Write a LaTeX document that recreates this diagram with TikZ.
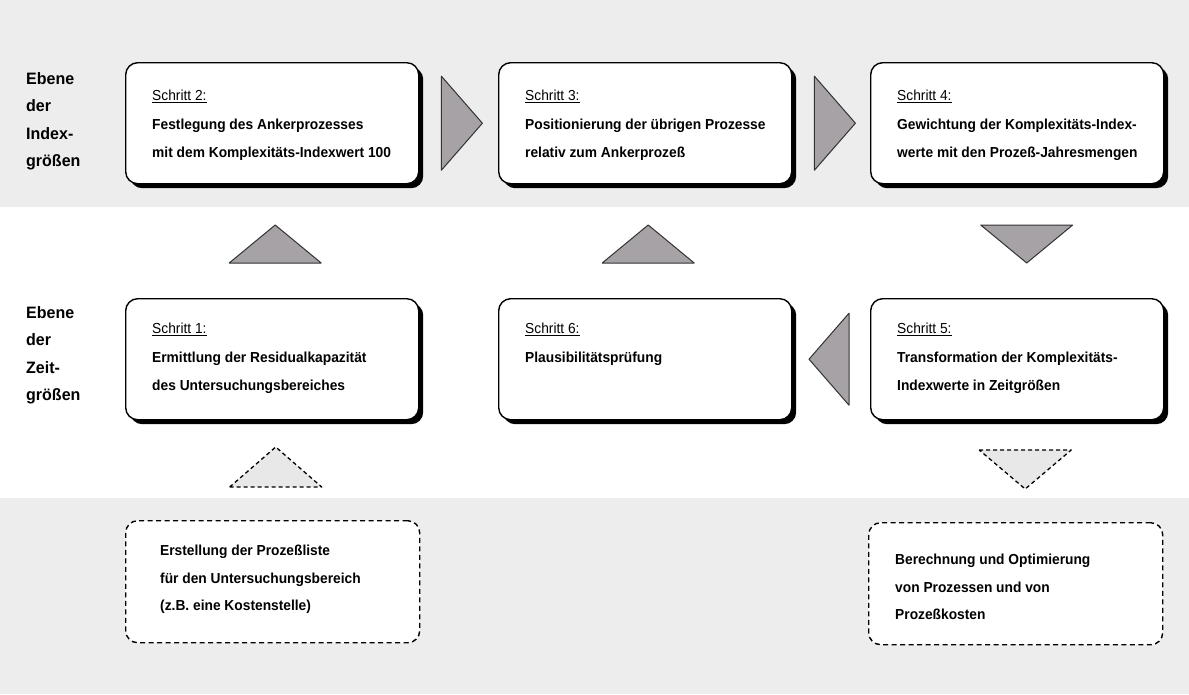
\documentclass[tikz,border=0pt]{standalone}
\usepackage{fontspec}
\setmainfont{Liberation Sans}
\usetikzlibrary{calc,shadows}

\definecolor{bandgrey}{HTML}{EDEDED}
\definecolor{trigrey}{HTML}{A6A2A6}
\definecolor{notegrey}{HTML}{E8E8E8}

\tikzset{
  stepbox/.style={draw=black, line width=1.4pt, fill=white, rounded corners=12pt,
    minimum width=293pt, minimum height=121pt, anchor=north west, inner sep=0pt,
    drop shadow={shadow xshift=4.5pt, shadow yshift=-4.5pt, fill=black, opacity=1}},
  notebox/.style={draw=black, line width=1.4pt, dash pattern=on 5pt off 3.5pt,
    fill=white, rounded corners=12pt, minimum width=294pt, minimum height=122pt,
    anchor=north west, inner sep=0pt},
  steptext/.style={anchor=north west, inner sep=0pt, align=left,
    font=\addfontfeature{FakeStretch=0.95}\fontsize{14.5}{28.5}\selectfont\bfseries},
  notetext/.style={steptext, font=\addfontfeature{FakeStretch=0.95}\fontsize{14.5}{27.5}\selectfont\bfseries},
  levellabel/.style={anchor=north west, inner sep=0pt, align=left,
    font=\addfontfeature{FakeStretch=0.97}\fontsize{16.5}{27.5}\selectfont\bfseries},
  flowtri/.style={draw=black!80, line width=1pt, fill=trigrey, line join=round},
  notetri/.style={draw=black, line width=1.3pt, dash pattern=on 4pt off 3pt,
    fill=notegrey, line join=round},
}
\newcommand\stepname[1]{{\mdseries\fontsize{14.5}{28.5}\selectfont\underline{#1}}}

\begin{document}
\begin{tikzpicture}[x=1pt, y=-1pt]
  % canvas and the two grey level bands
  \fill[white] (0,0) rectangle (1189,694);
  \useasboundingbox (0,0) rectangle (1189,694);
  \fill[bandgrey] (0,0) rectangle (1189,207);
  \fill[bandgrey] (0,498) rectangle (1189,694);

  % level labels
  \node[levellabel] (lab1) at (26,72) {Ebene\\der\\Index-\\größen};
  \node[levellabel] (lab2) at (26,306) {Ebene\\der\\Zeit-\\größen};

  % step boxes
  \node[stepbox] (b2) at (125,62) {};
  \node[stepbox] (b3) at (498,62) {};
  \node[stepbox] (b4) at (870,62) {};
  \node[stepbox] (b1) at (125,298) {};
  \node[stepbox] (b6) at (498,298) {};
  \node[stepbox] (b5) at (870,298) {};

  % step texts
  \node[steptext] (t2) at ($(b2.north west)+(27,28)$)
    {\stepname{Schritt 2:}\\Festlegung des Ankerprozesses\\mit dem Komplexitäts-Indexwert 100};
  \node[steptext] (t3) at ($(b3.north west)+(27,28)$)
    {\stepname{Schritt 3:}\\Positionierung der übrigen Prozesse\\relativ zum Ankerprozeß};
  \node[steptext] (t4) at ($(b4.north west)+(27,28)$)
    {\stepname{Schritt 4:}\\Gewichtung der Komplexitäts-Index-\\werte mit den Prozeß-Jahresmengen};
  \node[steptext] (t1) at ($(b1.north west)+(27,25)$)
    {\stepname{Schritt 1:}\\Ermittlung der Residualkapazität\\des Untersuchungsbereiches};
  \node[steptext] (t6) at ($(b6.north west)+(27,25)$)
    {\stepname{Schritt 6:}\\Plausibilitätsprüfung};
  \node[steptext] (t5) at ($(b5.north west)+(27,25)$)
    {\stepname{Schritt 5:}\\Transformation der Komplexitäts-\\Indexwerte in Zeitgrößen};

  % surrounding activities
  \node[notebox] (n1) at (125,520) {};
  \node[notebox] (n2) at (868,522) {};
  \node[notetext] (tn1) at ($(n1.north west)+(35,25)$)
    {Erstellung der Prozeßliste\\für den Untersuchungsbereich\\(z.B. eine Kostenstelle)};
  \node[notetext] (tn2) at ($(n2.north west)+(27,32)$)
    {Berechnung und Optimierung\\von Prozessen und von\\Prozeßkosten};

  % flow triangles along the step sequence
  \draw[flowtri] ($(b1.north)+(-43,-35)$) -- ($(b1.north)+(49,-35)$) -- ($(b1.north)+(3,-73)$) -- cycle;
  \draw[flowtri] ($(b2.east)+(22,-47)$) -- ($(b2.east)+(22,47)$) -- ($(b2.east)+(63,0)$) -- cycle;
  \draw[flowtri] ($(b3.east)+(22,-47)$) -- ($(b3.east)+(22,47)$) -- ($(b3.east)+(63,0)$) -- cycle;
  \draw[flowtri] ($(b5.north)+(-36.5,-73)$) -- ($(b5.north)+(55.5,-73)$) -- ($(b5.north)+(9.5,-35)$) -- cycle;
  \draw[flowtri] ($(b5.west)+(-21,-46)$) -- ($(b5.west)+(-21,46)$) -- ($(b5.west)+(-61,0)$) -- cycle;
  \draw[flowtri] ($(b6.north)+(-43,-35)$) -- ($(b6.north)+(49,-35)$) -- ($(b6.north)+(3,-73)$) -- cycle;

  % dashed triangles to and from the surrounding activities
  \draw[notetri] ($(n1.north)+(-43,-33)$) -- ($(n1.north)+(49,-33)$) -- ($(n1.north)+(3,-73)$) -- cycle;
  \draw[notetri] ($(n2.north)+(-36.5,-72)$) -- ($(n2.north)+(55.5,-72)$) -- ($(n2.north)+(9.5,-33)$) -- cycle;
\end{tikzpicture}
\end{document}
